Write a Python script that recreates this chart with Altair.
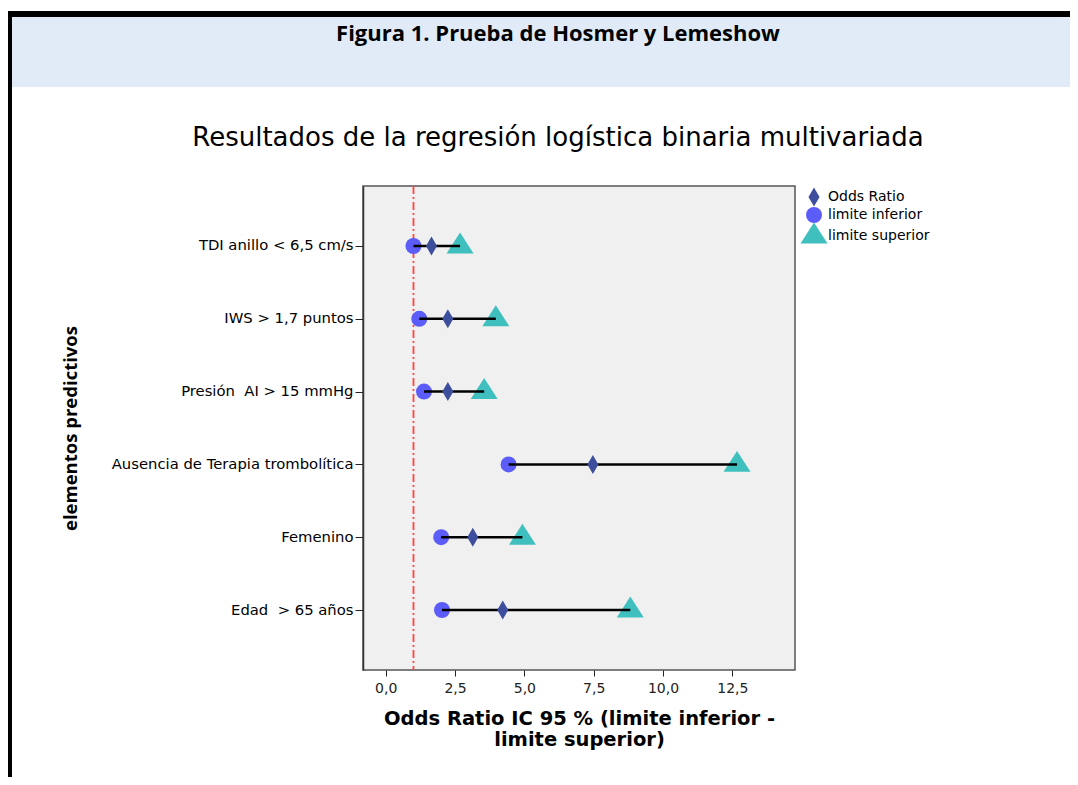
import altair as alt
import pandas as pd

# ---- data ----
predictores = [
    "TDI anillo < 6,5 cm/s",
    "IWS > 1,7 puntos",
    "Presión\u00a0 AI > 15 mmHg",
    "Ausencia de Terapia trombolítica",
    "Femenino",
    "Edad\u00a0 > 65 años",
]
odds_ratio = [1.65, 2.24, 2.24, 7.47, 3.14, 4.22]
limite_inferior = [1.00, 1.21, 1.38, 4.43, 2.00, 2.03]
limite_superior = [2.68, 3.97, 3.55, 12.67, 4.93, 8.82]
referencia = [1.0]
x_ticks = [0, 2.5, 5.0, 7.5, 10.0, 12.5]
series = ["Odds Ratio", "limite inferior", "limite superior"]

wide = pd.DataFrame({
    "pred": predictores,
    "or": odds_ratio,
    "lo": limite_inferior,
    "hi": limite_superior,
})
long_rows = []
for p, o, l, h in zip(predictores, odds_ratio, limite_inferior, limite_superior):
    long_rows.append({"pred": p, "serie": "limite inferior", "val": l})
    long_rows.append({"pred": p, "serie": "limite superior", "val": h})
    long_rows.append({"pred": p, "serie": "Odds Ratio", "val": o})
long = pd.DataFrame(long_rows)
ref_df = pd.DataFrame({"x": referencia})
one = pd.DataFrame({"k": [0]})

W, H = 432, 484
FONT = "DejaVu Sans"

xscale = alt.Scale(domain=[-0.82, 14.76], nice=False, zero=False)
yscale = alt.Scale(type="point", padding=0.824)

x_axis = alt.Axis(
    values=x_ticks,
    labelExpr="replace(format(datum.value, '.1f'), '.', ',')",
    grid=False, tickSize=6, tickColor="#222", domain=False,
    labelFont=FONT, labelFontSize=14, labelColor="#222", labelPadding=5,
    title=["Odds Ratio IC 95 % (limite inferior -", "limite superior)"],
    titleFont=FONT, titleFontSize=19.5, titleFontWeight="bold", titleColor="black",
    titleLineHeight=21, titlePadding=14,
)
y_axis = alt.Axis(
    tickSize=8, tickColor="#222", domainColor="#333", domainWidth=1.5,
    labelFont=FONT, labelFontSize=14.8, labelColor="black", labelPadding=2,
    labelLimit=400,
    title="elementos predictivos", titleFont="Open Sans", titleFontSize=18.5,
    titleFontWeight="bold", titleColor="black", titleAngle=270,
    titleX=-293, titleY=242, titleAlign="center", titleBaseline="middle",
)

shape_scale = alt.Scale(
    domain=series,
    range=["M0,-1L0.58,0L0,1L-0.58,0Z", "circle", "M0,-1L1,0.55L-1,0.55Z"],
)
color_scale = alt.Scale(domain=series, range=["#3d4f9c", "#5c5cf8", "#40bfbf"])

legend = alt.Legend(
    title=None, orient="none", legendX=443, legendY=3, padding=0,
    labelFont=FONT, labelFontSize=14, labelColor="black", labelOffset=6,
    symbolSize={"expr": "datum && datum.value == 'limite superior' ? 729 : (datum && datum.value == 'Odds Ratio' ? 361 : 256)"},
    rowPadding=-1, symbolOpacity=1, symbolStrokeWidth=0,
)

base_y = alt.Y("pred:N", sort=predictores, scale=yscale, axis=y_axis)


def points(serie, size):
    return alt.Chart(long).transform_filter(
        alt.datum.serie == serie
    ).mark_point(filled=True, opacity=1, size=size).encode(
        x=alt.X("val:Q", scale=xscale, axis=x_axis),
        y=base_y,
        shape=alt.Shape("serie:N", scale=shape_scale, legend=legend),
        color=alt.Color("serie:N", scale=color_scale, legend=legend),
    )


ref_line = alt.Chart(ref_df).mark_rule(
    color="#ff4444", strokeDash=[8, 3, 2, 3], strokeWidth=1.8
).encode(x=alt.X("x:Q", scale=xscale, axis=x_axis))

seg = alt.Chart(wide).mark_rule(color="black", strokeWidth=2.5).encode(
    x=alt.X("lo:Q", scale=xscale, axis=x_axis),
    x2="hi:Q",
    y=base_y,
)

low_pts = points("limite inferior", 256)
high_pts = points("limite superior", 729)
mid_pts = points("Odds Ratio", 361)

# ---- page decoration (header band, frame, titles) ----
header = alt.Chart(one).mark_rect(color="#e1ebf7").encode(
    x=alt.value(-351), x2=alt.value(707), y=alt.value(-169), y2=alt.value(-99)
)
top_bar = alt.Chart(one).mark_rect(color="black").encode(
    x=alt.value(-355), x2=alt.value(707), y=alt.value(-175), y2=alt.value(-169)
)
left_bar = alt.Chart(one).mark_rect(color="black").encode(
    x=alt.value(-355), x2=alt.value(-351), y=alt.value(-175), y2=alt.value(591)
)
fig_title = alt.Chart(one).mark_text(
    text="Figura 1. Prueba de Hosmer y Lemeshow", font="Open Sans",
    fontSize=22, fontWeight="bold", color="black", align="center", baseline="middle",
).encode(x=alt.value(195), y=alt.value(-152))
chart_title = alt.Chart(one).mark_text(
    text="Resultados de la regresión logística binaria multivariada", font=FONT,
    fontSize=26, color="black", align="center", baseline="middle",
).encode(x=alt.value(195), y=alt.value(-48))

chart = alt.layer(
    header, top_bar, left_bar, fig_title, chart_title,
    ref_line, low_pts, high_pts, seg, mid_pts,
).properties(
    width=W, height=H,
    autosize=alt.AutoSizeParams(type="none"),
    padding={"left": 355, "top": 178, "right": 275, "bottom": 107},
    background="white",
).configure_view(
    fill="#f0f0f0", stroke="#555", strokeWidth=1.5,
)

chart.save("out.html", embed_options={"renderer": "svg", "actions": False})
